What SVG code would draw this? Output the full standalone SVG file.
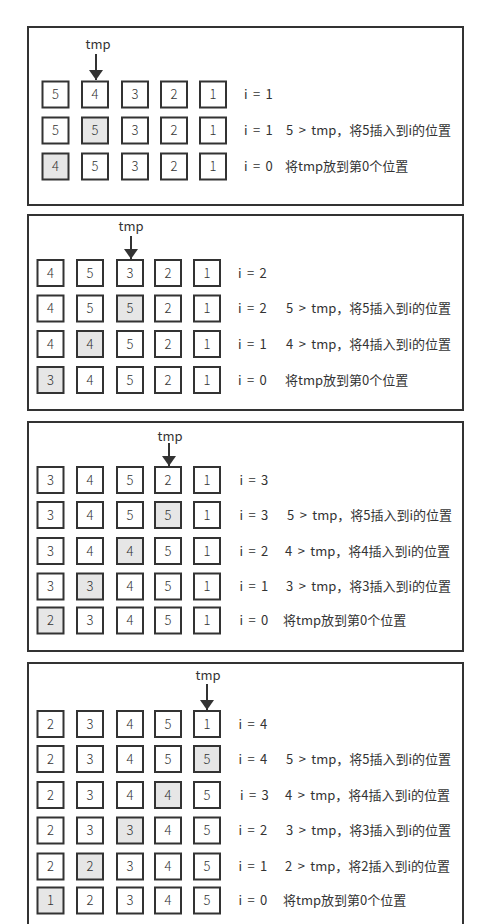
<svg xmlns="http://www.w3.org/2000/svg" width="495" height="924" viewBox="0 0 495 924">
<defs>
<style>
.panel{fill:#fff;stroke:#333;stroke-width:2}
.b{fill:#fff;stroke:#333;stroke-width:2}
.h{fill:#e6e6e6;stroke:#333;stroke-width:2}
text{font-family:"Noto Sans CJK SC","Noto Sans",sans-serif;font-size:13px;fill:#333;word-spacing:2.5px}
.n{text-anchor:middle;font-weight:300}
.t{text-anchor:middle}
.conn line{stroke:#333;stroke-width:2;marker-end:url(#ah)}
</style>
<marker id="ah" viewBox="0 0 10 14" refX="10" refY="7" markerWidth="10" markerHeight="14" markerUnits="userSpaceOnUse" orient="auto">
<path d="M0,0 L10,7 L0,14 z" fill="#333"/>
</marker>
</defs>
<rect width="495" height="924" fill="#fff"/>

<g id="panel1">
<rect class="panel" x="28" y="27" width="435" height="178"/>
<text class="t" x="98" y="49">tmp</text>
<g id="p1r1">
<rect class="b" x="42.5" y="81.5" width="26" height="26"/><text class="n" x="55.5" y="99">5</text>
<rect class="b" x="82" y="81.5" width="26" height="26"/><text class="n" x="95" y="99">4</text>
<rect class="b" x="122" y="81.5" width="26" height="26"/><text class="n" x="135" y="99">3</text>
<rect class="b" x="161" y="81.5" width="26" height="26"/><text class="n" x="174" y="99">2</text>
<rect class="b" x="200" y="81.5" width="26" height="26"/><text class="n" x="213" y="99">1</text>
<text x="244" y="99">i = 1</text>
</g>
<g id="p1r2">
<rect class="b" x="42.5" y="117.5" width="26" height="26"/><text class="n" x="55.5" y="135">5</text>
<rect class="h" x="82" y="117.5" width="26" height="26"/><text class="n" x="95" y="135">5</text>
<rect class="b" x="122" y="117.5" width="26" height="26"/><text class="n" x="135" y="135">3</text>
<rect class="b" x="161" y="117.5" width="26" height="26"/><text class="n" x="174" y="135">2</text>
<rect class="b" x="200" y="117.5" width="26" height="26"/><text class="n" x="213" y="135">1</text>
<text x="244" y="135">i = 1</text><text x="286" y="135">5 &gt; tmp，将5插入到i的位置</text>
</g>
<g id="p1r3">
<rect class="h" x="42.5" y="153.5" width="26" height="26"/><text class="n" x="55.5" y="171">4</text>
<rect class="b" x="82" y="153.5" width="26" height="26"/><text class="n" x="95" y="171">5</text>
<rect class="b" x="122" y="153.5" width="26" height="26"/><text class="n" x="135" y="171">3</text>
<rect class="b" x="161" y="153.5" width="26" height="26"/><text class="n" x="174" y="171">2</text>
<rect class="b" x="200" y="153.5" width="26" height="26"/><text class="n" x="213" y="171">1</text>
<text x="244" y="171">i = 0</text><text x="285" y="171">将tmp放到第0个位置</text>
</g>
</g>

<g id="panel2">
<rect class="panel" x="28" y="215" width="435" height="195"/>
<text class="t" x="131" y="231">tmp</text>
<g id="p2r1">
<rect class="b" x="37.5" y="260" width="26" height="26"/><text class="n" x="50.5" y="277.5">4</text>
<rect class="b" x="77" y="260" width="26" height="26"/><text class="n" x="90" y="277.5">5</text>
<rect class="b" x="117" y="260" width="26" height="26"/><text class="n" x="130" y="277.5">3</text>
<rect class="b" x="155" y="260" width="26" height="26"/><text class="n" x="168" y="277.5">2</text>
<rect class="b" x="194" y="260" width="26" height="26"/><text class="n" x="207" y="277.5">1</text>
<text x="238" y="277.5">i = 2</text>
</g>
<g id="p2r2">
<rect class="b" x="37.5" y="295.5" width="26" height="26"/><text class="n" x="50.5" y="313">4</text>
<rect class="b" x="77" y="295.5" width="26" height="26"/><text class="n" x="90" y="313">5</text>
<rect class="h" x="117" y="295.5" width="26" height="26"/><text class="n" x="130" y="313">5</text>
<rect class="b" x="155" y="295.5" width="26" height="26"/><text class="n" x="168" y="313">2</text>
<rect class="b" x="194" y="295.5" width="26" height="26"/><text class="n" x="207" y="313">1</text>
<text x="238" y="313">i = 2</text><text x="286" y="313">5 &gt; tmp，将5插入到i的位置</text>
</g>
<g id="p2r3">
<rect class="b" x="37.5" y="331" width="26" height="26"/><text class="n" x="50.5" y="348.5">4</text>
<rect class="h" x="77" y="331" width="26" height="26"/><text class="n" x="90" y="348.5">4</text>
<rect class="b" x="117" y="331" width="26" height="26"/><text class="n" x="130" y="348.5">5</text>
<rect class="b" x="155" y="331" width="26" height="26"/><text class="n" x="168" y="348.5">2</text>
<rect class="b" x="194" y="331" width="26" height="26"/><text class="n" x="207" y="348.5">1</text>
<text x="238" y="348.5">i = 1</text><text x="286" y="348.5">4 &gt; tmp，将4插入到i的位置</text>
</g>
<g id="p2r4">
<rect class="h" x="37.5" y="367" width="26" height="26"/><text class="n" x="50.5" y="384.5">3</text>
<rect class="b" x="77" y="367" width="26" height="26"/><text class="n" x="90" y="384.5">4</text>
<rect class="b" x="117" y="367" width="26" height="26"/><text class="n" x="130" y="384.5">5</text>
<rect class="b" x="155" y="367" width="26" height="26"/><text class="n" x="168" y="384.5">2</text>
<rect class="b" x="194" y="367" width="26" height="26"/><text class="n" x="207" y="384.5">1</text>
<text x="238" y="384.5">i = 0</text><text x="285" y="384.5">将tmp放到第0个位置</text>
</g>
</g>

<g id="panel3">
<rect class="panel" x="28" y="422" width="435" height="229"/>
<text class="t" x="170" y="441">tmp</text>
<g id="p3r1">
<rect class="b" x="37.5" y="467" width="26" height="26"/><text class="n" x="50.5" y="484.5">3</text>
<rect class="b" x="77" y="467" width="26" height="26"/><text class="n" x="90" y="484.5">4</text>
<rect class="b" x="117" y="467" width="26" height="26"/><text class="n" x="130" y="484.5">5</text>
<rect class="b" x="155" y="467" width="26" height="26"/><text class="n" x="168" y="484.5">2</text>
<rect class="b" x="194" y="467" width="26" height="26"/><text class="n" x="207" y="484.5">1</text>
<text x="239.5" y="484.5">i = 3</text>
</g>
<g id="p3r2">
<rect class="b" x="37.5" y="502" width="26" height="26"/><text class="n" x="50.5" y="519.5">3</text>
<rect class="b" x="77" y="502" width="26" height="26"/><text class="n" x="90" y="519.5">4</text>
<rect class="b" x="117" y="502" width="26" height="26"/><text class="n" x="130" y="519.5">5</text>
<rect class="h" x="155" y="502" width="26" height="26"/><text class="n" x="168" y="519.5">5</text>
<rect class="b" x="194" y="502" width="26" height="26"/><text class="n" x="207" y="519.5">1</text>
<text x="239.5" y="519.5">i = 3</text><text x="287" y="519.5">5 &gt; tmp，将5插入到i的位置</text>
</g>
<g id="p3r3">
<rect class="b" x="37.5" y="538" width="26" height="26"/><text class="n" x="50.5" y="555.5">3</text>
<rect class="b" x="77" y="538" width="26" height="26"/><text class="n" x="90" y="555.5">4</text>
<rect class="h" x="117" y="538" width="26" height="26"/><text class="n" x="130" y="555.5">4</text>
<rect class="b" x="155" y="538" width="26" height="26"/><text class="n" x="168" y="555.5">5</text>
<rect class="b" x="194" y="538" width="26" height="26"/><text class="n" x="207" y="555.5">1</text>
<text x="239.5" y="555.5">i = 2</text><text x="285" y="555.5">4 &gt; tmp，将4插入到i的位置</text>
</g>
<g id="p3r4">
<rect class="b" x="37.5" y="573.5" width="26" height="26"/><text class="n" x="50.5" y="591">3</text>
<rect class="h" x="77" y="573.5" width="26" height="26"/><text class="n" x="90" y="591">3</text>
<rect class="b" x="117" y="573.5" width="26" height="26"/><text class="n" x="130" y="591">4</text>
<rect class="b" x="155" y="573.5" width="26" height="26"/><text class="n" x="168" y="591">5</text>
<rect class="b" x="194" y="573.5" width="26" height="26"/><text class="n" x="207" y="591">1</text>
<text x="239.5" y="591">i = 1</text><text x="286" y="591">3 &gt; tmp，将3插入到i的位置</text>
</g>
<g id="p3r5">
<rect class="h" x="37.5" y="607.5" width="26" height="26"/><text class="n" x="50.5" y="625">2</text>
<rect class="b" x="77" y="607.5" width="26" height="26"/><text class="n" x="90" y="625">3</text>
<rect class="b" x="117" y="607.5" width="26" height="26"/><text class="n" x="130" y="625">4</text>
<rect class="b" x="155" y="607.5" width="26" height="26"/><text class="n" x="168" y="625">5</text>
<rect class="b" x="194" y="607.5" width="26" height="26"/><text class="n" x="207" y="625">1</text>
<text x="239.5" y="625">i = 0</text><text x="283" y="625">将tmp放到第0个位置</text>
</g>
</g>

<g id="panel4">
<path class="panel" d="M28,930 V663 H463 V930"/>
<text class="t" x="208" y="680">tmp</text>
<g id="p4r1">
<rect class="b" x="37.5" y="711" width="26" height="26"/><text class="n" x="50.5" y="728.5">2</text>
<rect class="b" x="77" y="711" width="26" height="26"/><text class="n" x="90" y="728.5">3</text>
<rect class="b" x="117" y="711" width="26" height="26"/><text class="n" x="130" y="728.5">4</text>
<rect class="b" x="155" y="711" width="26" height="26"/><text class="n" x="168" y="728.5">5</text>
<rect class="b" x="194" y="711" width="26" height="26"/><text class="n" x="207" y="728.5">1</text>
<text x="238.5" y="728.5">i = 4</text>
</g>
<g id="p4r2">
<rect class="b" x="37.5" y="746" width="26" height="26"/><text class="n" x="50.5" y="763.5">2</text>
<rect class="b" x="77" y="746" width="26" height="26"/><text class="n" x="90" y="763.5">3</text>
<rect class="b" x="117" y="746" width="26" height="26"/><text class="n" x="130" y="763.5">4</text>
<rect class="b" x="155" y="746" width="26" height="26"/><text class="n" x="168" y="763.5">5</text>
<rect class="h" x="194" y="746" width="26" height="26"/><text class="n" x="207" y="763.5">5</text>
<text x="238.5" y="763.5">i = 4</text><text x="286" y="763.5">5 &gt; tmp，将5插入到i的位置</text>
</g>
<g id="p4r3">
<rect class="b" x="37.5" y="782" width="26" height="26"/><text class="n" x="50.5" y="799.5">2</text>
<rect class="b" x="77" y="782" width="26" height="26"/><text class="n" x="90" y="799.5">3</text>
<rect class="b" x="117" y="782" width="26" height="26"/><text class="n" x="130" y="799.5">4</text>
<rect class="h" x="155" y="782" width="26" height="26"/><text class="n" x="168" y="799.5">4</text>
<rect class="b" x="194" y="782" width="26" height="26"/><text class="n" x="207" y="799.5">5</text>
<text x="240" y="799.5">i = 3</text><text x="285" y="799.5">4 &gt; tmp，将4插入到i的位置</text>
</g>
<g id="p4r4">
<rect class="b" x="37.5" y="817.5" width="26" height="26"/><text class="n" x="50.5" y="835">2</text>
<rect class="b" x="77" y="817.5" width="26" height="26"/><text class="n" x="90" y="835">3</text>
<rect class="h" x="117" y="817.5" width="26" height="26"/><text class="n" x="130" y="835">3</text>
<rect class="b" x="155" y="817.5" width="26" height="26"/><text class="n" x="168" y="835">4</text>
<rect class="b" x="194" y="817.5" width="26" height="26"/><text class="n" x="207" y="835">5</text>
<text x="238.5" y="835">i = 2</text><text x="286" y="835">3 &gt; tmp，将3插入到i的位置</text>
</g>
<g id="p4r5">
<rect class="b" x="37.5" y="853.5" width="26" height="26"/><text class="n" x="50.5" y="871">2</text>
<rect class="h" x="77" y="853.5" width="26" height="26"/><text class="n" x="90" y="871">2</text>
<rect class="b" x="117" y="853.5" width="26" height="26"/><text class="n" x="130" y="871">3</text>
<rect class="b" x="155" y="853.5" width="26" height="26"/><text class="n" x="168" y="871">4</text>
<rect class="b" x="194" y="853.5" width="26" height="26"/><text class="n" x="207" y="871">5</text>
<text x="238.5" y="871">i = 1</text><text x="285" y="871">2 &gt; tmp，将2插入到i的位置</text>
</g>
<g id="p4r6">
<rect class="h" x="37.5" y="887.5" width="26" height="26"/><text class="n" x="50.5" y="905">1</text>
<rect class="b" x="77" y="887.5" width="26" height="26"/><text class="n" x="90" y="905">2</text>
<rect class="b" x="117" y="887.5" width="26" height="26"/><text class="n" x="130" y="905">3</text>
<rect class="b" x="155" y="887.5" width="26" height="26"/><text class="n" x="168" y="905">4</text>
<rect class="b" x="194" y="887.5" width="26" height="26"/><text class="n" x="207" y="905">5</text>
<text x="238.5" y="905">i = 0</text><text x="283" y="905">将tmp放到第0个位置</text>
</g>
</g>

<g id="connectors" class="conn">
<line x1="96" y1="54" x2="96" y2="80"/>
<line x1="131" y1="236" x2="131" y2="259"/>
<line x1="169" y1="443" x2="169" y2="466"/>
<line x1="207" y1="684" x2="207" y2="710"/>
</g>
</svg>
